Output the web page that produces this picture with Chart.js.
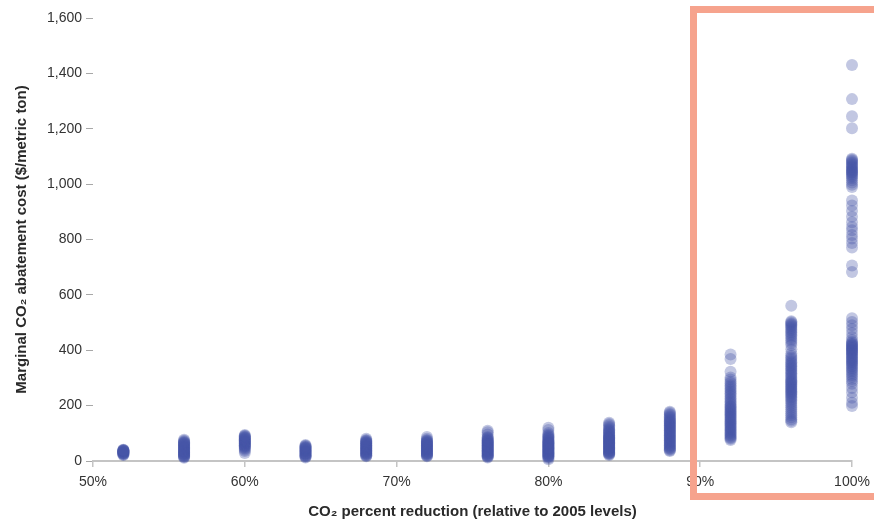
<!DOCTYPE html>
<html>
<head>
<meta charset="utf-8">
<script src="https://cdn.jsdelivr.net/npm/chart.js@4"></script>
<style>
  html, body { margin: 0; padding: 0; background: #fff; }
  #wrap { width: 874px; height: 522px; position: relative; }
</style>
</head>
<body>
<div id="wrap"><canvas id="chart" width="874" height="522"></canvas></div>
<script>
// CO2 percent reduction columns
const reductions = [52, 56, 60, 64, 68, 72, 76, 80, 84, 88, 92, 96, 100];

// marginal abatement cost ($/metric ton) read per column
const cost52 = [22, 23, 25, 26, 28, 29, 30, 31, 32, 33, 34, 35, 36, 37, 38, 39, 40, 41];
const cost56 = [12, 14, 16, 18, 20, 22, 24, 25, 27, 29, 30, 32, 34, 36, 38, 40, 42, 44, 46, 48, 50, 52, 54, 56, 58, 60, 62, 64, 66, 68, 70, 73, 77];
const cost60 = [29, 36, 41, 45, 48, 51, 53, 55, 57, 59, 61, 63, 65, 67, 69, 71, 73, 75, 77, 79, 81, 83, 85, 87, 89, 91, 94];
const cost64 = [13, 15, 17, 19, 21, 23, 25, 27, 29, 31, 33, 35, 37, 39, 41, 43, 45, 47, 49, 51, 53, 55, 58];
const cost68 = [17, 19, 21, 23, 25, 27, 29, 31, 33, 35, 37, 39, 41, 43, 45, 47, 49, 51, 53, 55, 57, 59, 61, 63, 65, 67, 69, 71, 73, 76, 80];
const cost72 = [17, 19, 21, 23, 25, 27, 29, 31, 33, 35, 37, 39, 41, 43, 45, 47, 49, 51, 53, 55, 57, 59, 61, 63, 65, 67, 69, 71, 73, 76, 80, 87];
const cost76 = [13, 15, 17, 19, 21, 23, 25, 27, 29, 31, 33, 35, 37, 39, 41, 43, 45, 47, 49, 51, 53, 55, 57, 59, 61, 63, 65, 67, 69, 71, 73, 75, 78, 81, 84, 87, 96, 104, 109];
const cost80 = [6, 11, 14, 16, 18, 20, 22, 24, 26, 28, 30, 32, 34, 36, 38, 40, 42, 44, 46, 48, 50, 52, 54, 56, 58, 60, 62, 64, 66, 68, 70, 72, 74, 77, 80, 83, 86, 89, 92, 96, 101, 112, 120];
const cost84 = [22, 24, 26, 28, 30, 32, 34, 36, 38, 40, 42, 44, 46, 48, 50, 52, 54, 56, 58, 60, 62, 64, 66, 68, 70, 72, 74, 76, 78, 80, 82, 84, 86, 88, 90, 93, 96, 99, 102, 105, 108, 111, 115, 119, 124, 129, 134, 138];
const cost88 = [36, 39, 42, 45, 48, 51, 54, 57, 60, 63, 66, 69, 72, 75, 78, 81, 84, 87, 90, 93, 96, 99, 102, 105, 108, 111, 114, 117, 120, 123, 126, 129, 132, 135, 138, 141, 144, 147, 150, 154, 158, 162, 166, 170, 174, 178];
const cost92 = [385, 368, 322, 302, 294, 286, 281, 274, 268, 262, 256, 250, 245, 239, 233, 227, 221, 215, 210, 205, 200, 196, 192, 188, 184, 180, 176, 172, 168, 164, 160, 156, 152, 148, 144, 140, 136, 132, 128, 124, 120, 116, 112, 108, 104, 100, 96, 92, 88, 84, 80, 76];
const cost96 = [561, 505, 501, 497, 493, 489, 485, 480, 475, 470, 465, 460, 454, 448, 441, 434, 427, 419, 404, 388, 380, 374, 368, 362, 357, 352, 347, 342, 337, 332, 327, 322, 317, 312, 307, 302, 297, 292, 288, 284, 280, 276, 272, 268, 264, 260, 256, 252, 248, 244, 240, 235, 230, 225, 219, 213, 207, 200, 193, 186, 179, 172, 165, 158, 151, 145, 140];
const cost100 = [1430, 1307, 1245, 1202, 1092, 1088, 1084, 1080, 1076, 1072, 1068, 1064, 1060, 1056, 1052, 1049, 1046, 1043, 1040, 1036, 1032, 1027, 1021, 1014, 1006, 998, 990, 941, 923, 903, 882, 862, 845, 833, 816, 804, 787, 771, 706, 683,
  516, 502, 490, 477, 462, 448, 437, 430, 426, 423, 420, 417, 414, 411, 408, 405, 402, 399, 396, 393, 390, 386, 382, 378, 374, 370, 366, 362, 358, 354, 350, 345, 340, 335, 330, 324, 318, 311, 304, 296, 288, 279, 264, 248, 228, 210, 199];

const costs = [cost52, cost56, cost60, cost64, cost68, cost72, cost76, cost80, cost84, cost88, cost92, cost96, cost100];

const xTicks = [50, 60, 70, 80, 90, 100];
const yTicks = [0, 200, 400, 600, 800, 1000, 1200, 1400, 1600];

const points = [];
reductions.forEach((r, i) => {
  costs[i].forEach(c => points.push({ x: r, y: c }));
});

const highlightBox = {
  id: 'highlightBox',
  afterDraw(chart) {
    const ctx = chart.ctx;
    ctx.save();
    ctx.strokeStyle = '#F6A38D';
    ctx.lineWidth = 7;
    ctx.strokeRect(693.5, 9.5, 260, 487);
    ctx.restore();
  }
};

const tickFont = { family: "'Liberation Sans', Arial, sans-serif", size: 14 };
const titleFont = { family: "'Liberation Sans', Arial, sans-serif", size: 15, weight: 'bold' };

new Chart(document.getElementById('chart'), {
  type: 'scatter',
  data: {
    datasets: [
      {
        data: points,
        backgroundColor: 'rgba(70, 84, 166, 0.33)',
        borderWidth: 0,
        pointRadius: 6,
        pointHoverRadius: 6,
        clip: false
      }
    ]
  },
  options: {
    responsive: false,
    animation: false,
    events: [],
    layout: {
      padding: { top: 18, right: 22, left: 0, bottom: 0 }
    },
    plugins: {
      legend: { display: false },
      tooltip: { enabled: false }
    },
    scales: {
      x: {
        type: 'linear',
        min: 50,
        max: 100,
        afterFit: scale => {
          scale.height = 61;
          scale.paddingLeft = 0;
          scale.paddingRight = 0;
        },
        afterBuildTicks: scale => { scale.ticks = xTicks.map(v => ({ value: v })); },
        border: { display: true, color: '#c4c4c4', width: 2 },
        grid: { drawOnChartArea: false, drawTicks: true, tickLength: 6, color: '#c4c4c4', lineWidth: 1.5 },
        ticks: {
          font: tickFont,
          color: '#333',
          padding: 7,
          maxRotation: 0,
          callback: v => v + '%'
        },
        title: {
          display: true,
          text: 'CO₂ percent reduction (relative to 2005 levels)',
          font: titleFont,
          color: '#2a2a2a',
          padding: { top: 0, bottom: 1 }
        }
      },
      y: {
        min: 0,
        max: 1600,
        afterFit: scale => { scale.width = 93; },
        afterBuildTicks: scale => { scale.ticks = yTicks.map(v => ({ value: v })); },
        border: { display: false },
        grid: { drawOnChartArea: false, drawTicks: true, tickLength: 7, color: '#a8a8a8', lineWidth: 1 },
        ticks: {
          font: tickFont,
          color: '#333',
          padding: 4,
          callback: v => v.toLocaleString('en-US')
        },
        title: {
          display: true,
          text: 'Marginal CO₂ abatement cost ($/metric ton)',
          font: titleFont,
          color: '#2a2a2a',
          padding: { top: 13, bottom: 0 }
        }
      }
    }
  },
  plugins: [highlightBox]
});
</script>
</body>
</html>
